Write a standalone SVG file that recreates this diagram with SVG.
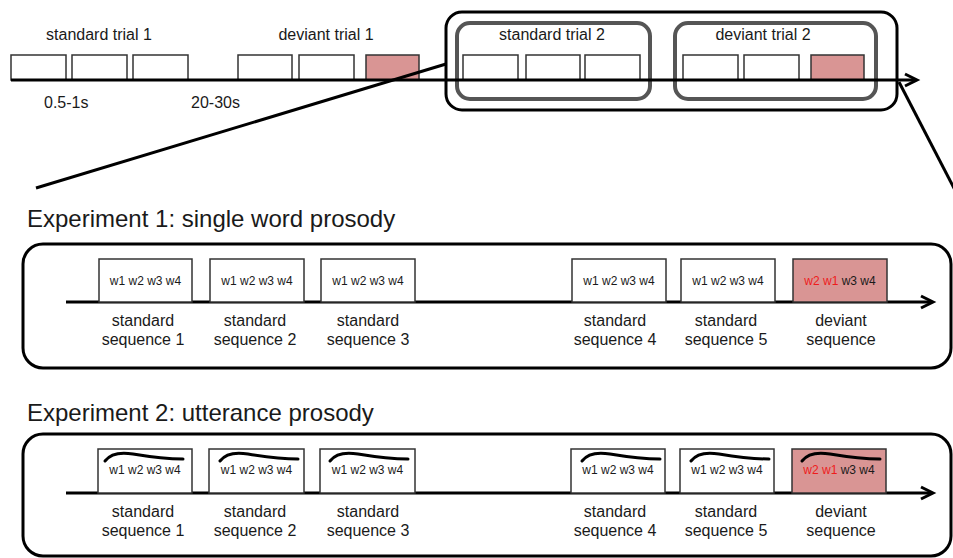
<svg xmlns="http://www.w3.org/2000/svg" width="953" height="558" viewBox="0 0 953 558">
<style>
text{font-family:"Liberation Sans",Arial,sans-serif;fill:#1a1a1a}
.t16{font-size:16px}
.t12{font-size:12px}
.t24{font-size:24px}
.mid{text-anchor:middle}
.box{fill:#fff;stroke:#333;stroke-width:1.5}
.dev{fill:#d99594;stroke:#333;stroke-width:1.5}
.axis{stroke:#000;stroke-width:3;fill:none}
.chev{stroke:#000;stroke-width:3;fill:none;stroke-linejoin:miter}
.frame{fill:none;stroke:#000;stroke-width:3}
.inner{fill:none;stroke:#555;stroke-width:4}
.curve{fill:none;stroke:#000;stroke-width:3;stroke-linecap:round}
.red{fill:#ee1c1c}
</style>
<rect width="953" height="558" fill="#fff"/>

<!-- Top timeline -->
<g id="top-timeline">
  <rect x="446" y="12" width="451" height="98" rx="16" class="frame"/>
  <rect x="457" y="23" width="193" height="76" rx="13" class="inner"/>
  <rect x="675" y="23" width="201" height="76" rx="13" class="inner"/>
  <g id="trial1-boxes">
    <rect x="11" y="55" width="55" height="25" class="box"/>
    <rect x="72" y="55" width="55" height="25" class="box"/>
    <rect x="133" y="55" width="55" height="25" class="box"/>
    <rect x="238" y="55" width="54" height="25" class="box"/>
    <rect x="299" y="55" width="55" height="25" class="box"/>
    <rect x="366" y="55" width="53" height="25" class="dev"/>
  </g>
  <g id="trial2-boxes">
    <rect x="463" y="55" width="55" height="25" class="box"/>
    <rect x="526" y="55" width="54" height="25" class="box"/>
    <rect x="585" y="55" width="55" height="25" class="box"/>
    <rect x="683" y="55" width="55" height="25" class="box"/>
    <rect x="744" y="55" width="55" height="25" class="box"/>
    <rect x="811" y="55" width="53" height="25" class="dev"/>
  </g>
  <text x="99" y="40" class="t16 mid">standard trial 1</text>
  <text x="326" y="40" class="t16 mid">deviant trial 1</text>
  <text x="552" y="40" class="t16 mid">standard trial 2</text>
  <text x="763" y="40" class="t16 mid">deviant trial 2</text>
  <text x="44" y="108" class="t16">0.5-1s</text>
  <text x="191" y="108" class="t16">20-30s</text>
</g>

<g id="connectors">
  <line x1="11" y1="80" x2="916" y2="80" class="axis"/>
  <polyline points="905,74 917,80 905,86" class="chev"/>
  <line x1="36" y1="188" x2="446" y2="64" class="axis"/>
  <line x1="899" y1="82" x2="956" y2="192" class="axis"/>
  <line x1="66" y1="302" x2="931" y2="302" class="axis"/>
  <polyline points="921,296 933,302 921,308" class="chev"/>
  <line x1="66" y1="493" x2="931" y2="493" class="axis"/>
  <polyline points="921,487 933,493 921,499" class="chev"/>
</g>

<!-- Experiment 1 -->
<g id="exp1">
  <text x="27" y="227" class="t24">Experiment 1: single word prosody</text>
  <rect x="23" y="244" width="928" height="124" rx="20" class="frame"/>
  <g id="exp1-seq1"><rect x="99" y="259" width="93" height="43" class="box"/><text x="145.5" y="285" class="t12 mid">w1 w2 w3 w4</text><text x="143" y="326" class="t16 mid">standard</text><text x="143" y="345" class="t16 mid">sequence 1</text></g>
  <g id="exp1-seq2"><rect x="210" y="259" width="94" height="43" class="box"/><text x="257" y="285" class="t12 mid">w1 w2 w3 w4</text><text x="255" y="326" class="t16 mid">standard</text><text x="255" y="345" class="t16 mid">sequence 2</text></g>
  <g id="exp1-seq3"><rect x="321" y="259" width="94" height="43" class="box"/><text x="368" y="285" class="t12 mid">w1 w2 w3 w4</text><text x="368" y="326" class="t16 mid">standard</text><text x="368" y="345" class="t16 mid">sequence 3</text></g>
  <g id="exp1-seq4"><rect x="572" y="259" width="94" height="43" class="box"/><text x="619" y="285" class="t12 mid">w1 w2 w3 w4</text><text x="615" y="326" class="t16 mid">standard</text><text x="615" y="345" class="t16 mid">sequence 4</text></g>
  <g id="exp1-seq5"><rect x="681" y="259" width="94" height="43" class="box"/><text x="728" y="285" class="t12 mid">w1 w2 w3 w4</text><text x="726" y="326" class="t16 mid">standard</text><text x="726" y="345" class="t16 mid">sequence 5</text></g>
  <g id="exp1-dev"><rect x="793" y="259" width="94" height="43" class="dev"/><text x="840" y="285" class="t12 mid"><tspan class="red">w2 w1</tspan> w3 w4</text><text x="841" y="326" class="t16 mid">deviant</text><text x="841" y="345" class="t16 mid">sequence</text></g>
</g>

<!-- Experiment 2 -->
<defs>
  <path id="contour" d="M0,0 C6,-8 16,-9 28,-7 C46,-4 62,-2 78,-2" class="curve"/>
</defs>
<g id="exp2">
  <text x="27" y="421" class="t24">Experiment 2: utterance prosody</text>
  <rect x="23" y="434" width="928" height="122" rx="20" class="frame"/>
  <g id="exp2-seq1"><rect x="98" y="449" width="94" height="44" class="box"/><use href="#contour" x="105" y="461"/><text x="145" y="474" class="t12 mid">w1 w2 w3 w4</text><text x="143" y="517" class="t16 mid">standard</text><text x="143" y="536" class="t16 mid">sequence 1</text></g>
  <g id="exp2-seq2"><rect x="209" y="449" width="95" height="44" class="box"/><use href="#contour" x="220" y="461"/><text x="256.5" y="474" class="t12 mid">w1 w2 w3 w4</text><text x="255" y="517" class="t16 mid">standard</text><text x="255" y="536" class="t16 mid">sequence 2</text></g>
  <g id="exp2-seq3"><rect x="320" y="449" width="95" height="44" class="box"/><use href="#contour" x="330" y="461"/><text x="367.5" y="474" class="t12 mid">w1 w2 w3 w4</text><text x="368" y="517" class="t16 mid">standard</text><text x="368" y="536" class="t16 mid">sequence 3</text></g>
  <g id="exp2-seq4"><rect x="571" y="449" width="94" height="44" class="box"/><use href="#contour" x="582" y="461"/><text x="618" y="474" class="t12 mid">w1 w2 w3 w4</text><text x="615" y="517" class="t16 mid">standard</text><text x="615" y="536" class="t16 mid">sequence 4</text></g>
  <g id="exp2-seq5"><rect x="680" y="449" width="94" height="44" class="box"/><use href="#contour" x="691" y="461"/><text x="727" y="474" class="t12 mid">w1 w2 w3 w4</text><text x="726" y="517" class="t16 mid">standard</text><text x="726" y="536" class="t16 mid">sequence 5</text></g>
  <g id="exp2-dev"><rect x="792" y="449" width="94" height="44" class="dev"/><use href="#contour" x="802" y="461"/><text x="839" y="474" class="t12 mid"><tspan class="red">w2 w1</tspan> w3 w4</text><text x="841" y="517" class="t16 mid">deviant</text><text x="841" y="536" class="t16 mid">sequence</text></g>
</g>
</svg>
